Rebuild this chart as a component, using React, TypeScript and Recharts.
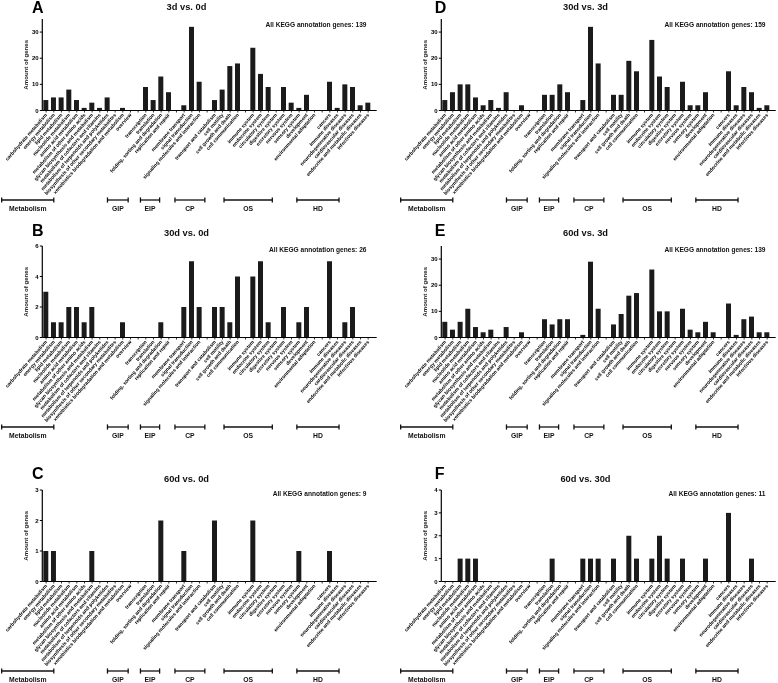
import React from 'react';
import { BarChart, Bar, XAxis, YAxis } from 'recharts';

// KEGG level-2 categories, grouped by level-1 class
const METABOLISM = [
  'carbohydrate metabolism',
  'energy metabolism',
  'lipid metabolism',
  'nucleotide metabolism',
  'amino acid metabolism',
  'metabolism of other amino acids',
  'glycan biosynthesis and metabolism',
  'metabolism of cofactors and vitamins',
  'metabolism of terpenoids and polyketides',
  'biosynthesis of other secondary metabolites',
  'xenobiotics biodegradation and metabolism',
  'overview',
];
const GIP = ['transcription', 'translation', 'folding, sorting and degradation', 'replication and repair'];
const EIP = ['membrane transport', 'signal transduction', 'signaling molecules and interaction'];
const CP = ['transport and catabolism', 'cell motility', 'cell growth and death', 'cell communication'];
const OS = [
  'immune system',
  'endocrine system',
  'circulatory system',
  'digestive system',
  'excretory system',
  'nervous system',
  'sensory system',
  'development',
  'environmental adaptation',
];
const HD = [
  'cancers',
  'immune diseases',
  'neurodegenerative diseases',
  'cardiovascular diseases',
  'endocrine and metabolic diseases',
  'infectious diseases',
];
const GROUPS = [METABOLISM, GIP, EIP, CP, OS, HD];
const GROUP_NAMES = ['Metabolism', 'GIP', 'EIP', 'CP', 'OS', 'HD'];

// gene counts, same order as the categories above (Met | GIP | EIP | CP | OS | HD)
const GENES_3D_0D = [
  4, 5, 5, 8, 4, 1, 3, 1, 5, 0, 1, 0,
  9, 4, 13, 7,
  2, 32, 11,
  4, 8, 17, 18,
  24, 14, 9, 0, 9, 3, 1, 6, 0,
  11, 1, 10, 9, 2, 3,
];
const GENES_30D_0D = [
  3, 1, 1, 2, 2, 1, 2, 0, 0, 0, 1, 0,
  0, 0, 1, 0,
  2, 5, 2,
  2, 2, 1, 4,
  4, 5, 1, 0, 2, 0, 1, 2, 0,
  5, 0, 1, 2, 0, 0,
];
const GENES_60D_0D = [
  1, 1, 0, 0, 0, 0, 1, 0, 0, 0, 0, 0,
  0, 0, 2, 0,
  1, 0, 0,
  2, 0, 0, 0,
  2, 0, 0, 0, 0, 0, 1, 0, 0,
  1, 0, 0, 0, 0, 0,
];
const GENES_30D_3D = [
  4, 7, 10, 10, 5, 2, 4, 1, 7, 0, 2, 0,
  6, 6, 10, 7,
  4, 32, 18,
  6, 6, 19, 15,
  27, 13, 9, 0, 11, 2, 2, 7, 0,
  15, 2, 9, 7, 1, 2,
];
const GENES_60D_3D = [
  6, 3, 6, 11, 4, 2, 3, 0, 4, 0, 2, 0,
  7, 5, 7, 7,
  1, 29, 11,
  5, 9, 16, 17,
  26, 10, 10, 0, 11, 3, 2, 6, 2,
  13, 1, 7, 8, 2, 2,
];
const GENES_60D_30D = [
  0, 0, 1, 1, 1, 0, 0, 0, 0, 0, 0, 0,
  0, 1, 0, 0,
  1, 1, 1,
  1, 0, 2, 1,
  1, 2, 1, 0, 1, 0, 0, 1, 0,
  3, 0, 0, 1, 0, 0,
];

const LETTERS = ['A', 'B', 'C', 'D', 'E', 'F'];
const TITLES = ['3d vs. 0d', '30d vs. 0d', '60d vs. 0d', '30d vs. 3d', '60d vs. 3d', '60d vs. 30d'];
const TOTALS = [139, 26, 9, 159, 139, 11];
const Y_MAX = [35, 6, 3, 35, 35, 4];
const Y_TICKS = [[0, 10, 20, 30], [0, 2, 4, 6], [0, 1, 2, 3], [0, 10, 20, 30], [0, 10, 20, 30], [0, 1, 2, 3, 4]];
const SERIES = [GENES_3D_0D, GENES_30D_0D, GENES_60D_0D, GENES_30D_3D, GENES_60D_3D, GENES_60D_30D];

// layout
const FONT = '"Liberation Sans", Arial, Helvetica, sans-serif';
const CHART_W = 379;
const PLOT_LEFT = 42.3;
const PLOT_TOP = 19;
const PLOT_H = 91.5;
const X_AXIS_H = 85;
const PAD_RIGHT = 4.7;
const PLOT_W = CHART_W - PLOT_LEFT - 2.3;
const SLOTS = 43;
const BAND = (PLOT_W - PAD_RIGHT) / SLOTS;
const COL_LEFT = [0, 399];
const ROW_TOP = [0, 226.7, 471];
const LETTER_X = [32, 35.7];
const LETTER_Y = [13.3, 9, 7.5];
const TITLE_Y = [9.5, 8.5, 11.3];
const ANNOT_Y = [27.3, 25.1, 24.6];
// bracket spans under the slanted labels, in slot units from the y axis
const BRACKET_SPANS = [[-5.3, 1.5], [8.5, 11.2], [12.8, 15.3], [17.3, 21.2], [23.7, 30.0], [33.2, 38.7]];

type Row = { key: string; label: string; value: number | null };

const buildRows = (values: number[]): Row[] => {
  const rows: Row[] = [];
  let n = 0;
  GROUPS.forEach((group, g) => {
    if (g > 0) rows.push({ key: `gap${g}`, label: '', value: null });
    group.forEach((label) => {
      rows.push({ key: `c${n}`, label, value: values[n] });
      n += 1;
    });
  });
  return rows;
};

const LABEL_BY_KEY: Record<string, string> = {};
buildRows(GENES_3D_0D).forEach((r) => {
  LABEL_BY_KEY[r.key] = r.label;
});

const CategoryTick = (props: any) => {
  const { x, y, payload } = props;
  const label = LABEL_BY_KEY[payload.value] || '';
  return (
    <text
      x={x}
      y={y}
      dy="0.35em"
      transform={`rotate(-49 ${x} ${y})`}
      textAnchor="end"
      fontSize={5}
      fontWeight="bold"
      fontFamily={FONT}
      fill="#000"
    >
      {label}
    </text>
  );
};

const Panel = ({ index }: { index: number }) => {
  const col = index < 3 ? 0 : 1;
  const row = index % 3;
  const data = buildRows(SERIES[index]);
  const bracketY = PLOT_TOP + PLOT_H + 89.5;
  return (
    <div
      style={{
        position: 'absolute',
        left: COL_LEFT[col],
        top: ROW_TOP[row],
        width: CHART_W,
        height: 228,
        willChange: 'transform',
      }}
    >
      <BarChart
        width={CHART_W}
        height={PLOT_TOP + PLOT_H + X_AXIS_H}
        data={data}
        margin={{ top: PLOT_TOP, right: CHART_W - PLOT_LEFT - PLOT_W, bottom: 0, left: 0 }}
        barSize={5}
      >
        <XAxis
          dataKey="key"
          interval={0}
          tick={<CategoryTick />}
          tickSize={2}
          tickMargin={1.5}
          height={X_AXIS_H}
          axisLine={{ stroke: '#000', strokeWidth: 1.2 }}
          tickLine={{ stroke: '#000', strokeWidth: 0.8 }}
          padding={{ left: 0, right: PAD_RIGHT }}
        />
        <YAxis
          width={PLOT_LEFT}
          domain={[0, Y_MAX[index]]}
          ticks={Y_TICKS[index]}
          interval={0}
          allowDecimals={false}
          tickSize={2.5}
          tickMargin={1.2}
          axisLine={{ stroke: '#000', strokeWidth: 1.2 }}
          tickLine={{ stroke: '#000', strokeWidth: 1 }}
          tick={{ fontSize: 6, fontWeight: 'bold', fill: '#000', fontFamily: FONT }}
        />
        <Bar dataKey="value" fill="#1b1b1b" isAnimationActive={false} />
      </BarChart>
      <svg
        width={CHART_W}
        height={228}
        style={{
          position: 'absolute',
          left: 0,
          top: 0,
          pointerEvents: 'none',
          fontFamily: FONT,
          overflow: 'visible',
        }}
      >
        <text x={LETTER_X[col]} y={LETTER_Y[row]} fontSize={16} fontWeight="bold" fill="#000">
          {LETTERS[index]}
        </text>
        <text x={186.5} y={TITLE_Y[row]} fontSize={9.3} fontWeight="bold" textAnchor="middle" fill="#111">
          {TITLES[index]}
        </text>
        <text x={366.5} y={ANNOT_Y[row]} fontSize={6.6} fontWeight="bold" textAnchor="end" fill="#111">
          {`All KEGG annotation genes: ${TOTALS[index]}`}
        </text>
        <text
          x={28}
          y={PLOT_TOP + PLOT_H / 2}
          fontSize={6.1}
          fontWeight="bold"
          textAnchor="middle"
          fill="#222"
          transform={`rotate(-90 28 ${PLOT_TOP + PLOT_H / 2})`}
        >
          Amount of genes
        </text>
        {BRACKET_SPANS.map(([a, b], g) => {
          const x1 = PLOT_LEFT + a * BAND;
          const x2 = PLOT_LEFT + b * BAND;
          return (
            <g key={GROUP_NAMES[g]} stroke="#111" strokeWidth={1.3}>
              <line x1={x1} y1={bracketY} x2={x2} y2={bracketY} />
              <line x1={x1} y1={bracketY - 2.6} x2={x1} y2={bracketY + 2.6} />
              <line x1={x2} y1={bracketY - 2.6} x2={x2} y2={bracketY + 2.6} />
              <text
                x={(x1 + x2) / 2}
                y={bracketY + 11}
                fontSize={6.8}
                fontWeight="bold"
                textAnchor="middle"
                fill="#111"
                stroke="none"
              >
                {GROUP_NAMES[g]}
              </text>
            </g>
          );
        })}
      </svg>
    </div>
  );
}

export default function App() {
  return (
    <div style={{ position: 'absolute', left: 0, top: 0, width: 778, height: 683, background: '#fff', overflow: 'hidden' }}>
      {LETTERS.map((_, i) => (
        <Panel key={LETTERS[i]} index={i} />
      ))}
    </div>
  );
}
